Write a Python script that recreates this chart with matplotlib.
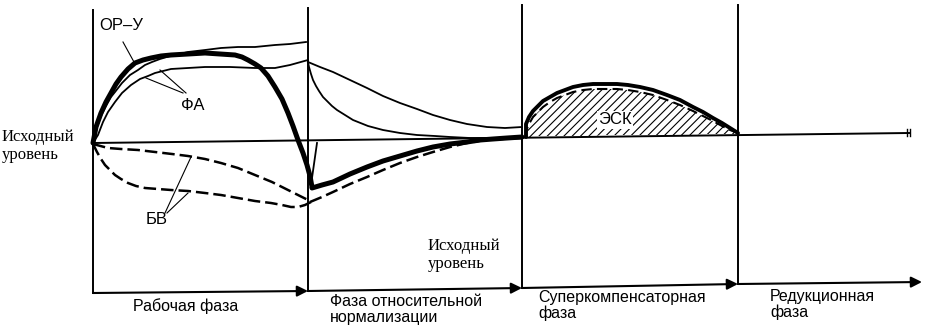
import numpy as np
import matplotlib.pyplot as plt

# coordinates (x to the right, y downward, pixel-like units)
phase_x = [93, 308, 522, 738]
phase_top = [10, 8, 5, 5]
axis_x = [93, 308, 522, 738, 922]
axis_y = [293, 291, 288, 284, 282]
base_x = [93, 909]
base_y = [143, 133]

# phase 1 – working phase
thick1_x = [93, 96, 101, 106, 111, 116, 121, 128, 135, 143, 151, 161, 171, 188, 205, 220,
            235, 242, 248, 255, 261, 268, 275, 282, 288, 293, 298, 303, 307, 310, 312]
thick1_y = [143, 127, 113, 102, 93, 84, 77, 69, 63, 60, 58, 56, 55, 54, 53, 54,
            55, 57, 60, 64, 68, 76, 87, 99, 113, 126, 140, 153, 165, 176, 187]
fa_top_x = [93, 97, 101, 106, 111, 115, 122, 130, 138, 145, 152, 160, 170, 180, 188,
            205, 221, 238, 255, 275, 290, 306]
fa_top_y = [143, 127, 116, 106, 97, 92, 83, 75, 70, 65, 62, 59, 56, 54, 52,
            50, 48, 47, 47, 45, 44, 42]
fa_low_x = [93, 98, 103, 108, 115, 122, 131, 140, 148, 155, 163, 171, 188, 205, 230,
            255, 275, 290, 308]
fa_low_y = [143, 135, 122, 112, 102, 93, 85, 79, 76, 73, 71, 69, 68, 67, 67,
            68, 68, 65, 60]
bv_up_x = [93, 108, 121, 138, 155, 172, 188, 205, 221, 238, 255, 272, 288, 300, 310]
bv_up_y = [144, 148, 149, 150, 152, 154, 156, 159, 163, 168, 175, 182, 190, 196, 201]
bv_low_x = [93, 97, 101, 105, 110, 115, 121, 128, 136, 145, 158, 171, 188, 205, 221,
            238, 255, 271, 282, 291, 298, 305, 311]
bv_low_y = [144, 152, 159, 165, 170, 175, 179, 183, 186, 188, 189, 190, 191, 193, 195,
            198, 201, 203, 205, 207, 207, 205, 202]

# phase 2 – relative normalisation
slow2_x = [308, 320, 333, 350, 367, 383, 400, 417, 433, 450, 467, 487, 505, 522]
slow2_y = [62, 67, 72, 80, 88, 96, 103, 109, 115, 120, 124, 127, 128, 127]
fast2_x = [308, 309, 311, 313, 316, 319, 323, 327, 332, 337, 345, 353, 368, 383, 400,
           417, 435, 450, 470, 487, 522]
fast2_y = [62, 67, 74, 80, 86, 91, 97, 101, 106, 110, 115, 120, 126, 130, 133,
           135, 136, 137, 138, 138, 138]
thick2_x = [312, 322, 333, 350, 367, 383, 400, 417, 433, 450, 467, 480, 493, 507, 522]
thick2_y = [188, 185, 182, 174, 167, 161, 156, 151, 147, 144, 142, 140, 139, 138, 137]
dash2_x = [310, 322, 333, 350, 367, 383, 400, 417, 433, 450, 467, 485, 500, 522]
dash2_y = [202, 197, 192, 184, 177, 170, 163, 157, 152, 147, 143, 140, 139, 138]

# phase 3 – supercompensation (ЭСК)
esk_x = [526, 526, 529, 533, 538, 543, 550, 557, 565, 573, 583, 593, 605, 617, 628, 640,
         653, 667, 680, 693, 703, 713, 722, 730, 738]
esk_top = [137, 124, 117, 111, 106, 101, 97, 93, 90, 87, 85, 84, 84, 84, 85, 87,
           90, 95, 100, 107, 112, 118, 123, 128, 133]
esk_in = [137, 131, 124, 117, 112, 107, 102, 98, 95, 92, 90, 89, 89, 89, 90, 92,
          95, 100, 105, 111, 116, 121, 126, 130, 133]
esk_base = [137] * 4 + [136] * 8 + [135] * 8 + [134] * 5

phase_labels = ["Рабочая фаза", "Фаза относительной\nнормализации",
                "Суперкомпенсаторная\nфаза", "Редукционная\nфаза"]
phase_label_x = [133, 330, 538, 770]
phase_label_y = [298, 294, 290, 289]
level_text = "Исходный\nуровень"

plt.rcParams['hatch.linewidth'] = 0.8
sans = ['Liberation Sans', 'DejaVu Sans']
serif = ['Liberation Serif', 'DejaVu Serif']

fig = plt.figure(figsize=(9.31, 3.30), dpi=100)
ax = fig.add_axes([0, 0, 1, 1])
ax.set_xlim(0, 931)
ax.set_ylim(330, 0)
ax.axis('off')

# frame: phase boundaries, baseline, time axis
for x, top, yb in zip(phase_x, phase_top, axis_y):
    ax.plot([x, x], [top, yb], color='k', lw=1.4)
ax.plot(base_x, base_y, color='k', lw=1.4)
for dx in (-2, 1):
    ax.plot([base_x[1] + dx, base_x[1] + dx], [base_y[1] - 4, base_y[1] + 3], color='k', lw=1)
for i in range(len(axis_x) - 1):
    ax.annotate('', xy=(axis_x[i + 1], axis_y[i + 1]), xytext=(axis_x[i], axis_y[i]),
                arrowprops=dict(arrowstyle='-|>', color='k', lw=1.5,
                                mutation_scale=16, shrinkA=0, shrinkB=0))

thick = dict(color='k', lw=3.6, solid_capstyle='round', solid_joinstyle='round')
thin = dict(color='k', lw=1.3, solid_joinstyle='round')
dashed = dict(color='k', lw=1.8, ls=(0, (5, 2)))

# curves
ax.plot(fa_low_x, fa_low_y, **thin)
ax.plot(fa_top_x, fa_top_y, **thin)
ax.plot(thick1_x, thick1_y, **thick)
ax.plot(bv_up_x, bv_up_y, **dashed)
ax.plot(bv_low_x, bv_low_y, **dashed)
ax.plot([317, 311], [143, 185], **thin)

ax.plot(slow2_x, slow2_y, **thin)
ax.plot(fast2_x, fast2_y, **thin)
ax.plot(thick2_x, thick2_y, **thick)
ax.plot(dash2_x, dash2_y, **dashed)

ax.fill_between(esk_x, esk_base, esk_in, facecolor='none', edgecolor='k',
                hatch='////', lw=0)
ax.plot(esk_x, esk_in, color='k', lw=1.5, ls=(0, (5, 2.5)))
ax.plot(esk_x, esk_top, color='k', lw=2.8, solid_capstyle='round')

# pointer lines
ax.plot([123, 134], [42, 62], color='k', lw=0.8)
ax.plot([186, 160], [93, 70], color='k', lw=0.8)
ax.plot([183, 146], [93, 78], color='k', lw=0.8)
ax.plot([165, 191], [213, 157], color='k', lw=0.8)
ax.plot([167, 188], [213, 193], color='k', lw=0.8)

# labels
ax.text(99, 25, "ОР–У", family=sans, fontsize=12, va='center', ha='left')
ax.text(181, 105, "ФА", family=sans, fontsize=12, va='center', ha='left')
ax.text(146, 220, "БВ", family=sans, fontsize=12, va='center', ha='left')
ax.text(598, 120, "ЭСК", family=sans, fontsize=12, va='center', ha='left',
        bbox=dict(facecolor='white', edgecolor='none', pad=1))
ax.text(2, 146, level_text, family=serif, fontsize=12, va='center', ha='left', linespacing=1.1)
ax.text(428, 255, level_text, family=serif, fontsize=12, va='center', ha='left', linespacing=1.1)
for lab, x, y in zip(phase_labels, phase_label_x, phase_label_y):
    ax.text(x, y, lab, family=sans, fontsize=11.5, va='top', ha='left', linespacing=1.05)

fig.savefig('out.png', dpi=100)
